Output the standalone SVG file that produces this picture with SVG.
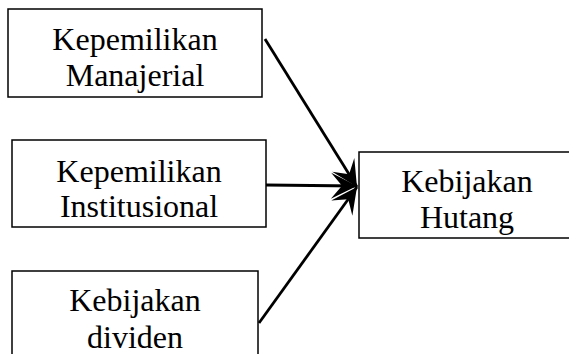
<svg xmlns="http://www.w3.org/2000/svg" width="569" height="354" viewBox="0 0 569 354">
<style>
.box{fill:#fff;stroke:#000;stroke-width:1.5}
.t{font-family:"Liberation Serif","Times New Roman",serif;font-size:32px;fill:#000;text-anchor:middle}
.c{stroke:#000;stroke-width:2.8;fill:none}
</style>
<defs>
<marker id="ah" markerUnits="userSpaceOnUse" markerWidth="30" markerHeight="30" viewBox="-27 -15 30 30" refX="0" refY="0" orient="auto">
<path d="M0,0 L-26,-13 L-15,0 L-26,13 Z" fill="#000"/>
</marker>
</defs>
<rect width="569" height="354" fill="#fff"/>
<g id="n1"><rect class="box" x="8" y="9" width="254" height="88"/><text class="t" x="135" y="50">Kepemilikan</text><text class="t" x="135" y="86">Manajerial</text></g>
<g id="n2"><rect class="box" x="12" y="140" width="254" height="87"/><text class="t" x="139" y="182">Kepemilikan</text><text class="t" x="139" y="217">Institusional</text></g>
<g id="n3"><rect class="box" x="12" y="271" width="246" height="95"/><text class="t" x="135" y="311">Kebijakan</text><text class="t" x="135" y="348">dividen</text></g>
<g id="n4"><rect class="box" x="359" y="152" width="220" height="86"/><text class="t" x="467" y="192">Kebijakan</text><text class="t" x="467" y="228">Hutang</text></g>
<g id="connectors">
<line class="c" x1="265" y1="39" x2="357" y2="187" marker-end="url(#ah)"/>
<line class="c" x1="266" y1="185" x2="357" y2="186" marker-end="url(#ah)"/>
<line class="c" x1="259" y1="323" x2="357" y2="187" marker-end="url(#ah)"/>
</g>
</svg>
